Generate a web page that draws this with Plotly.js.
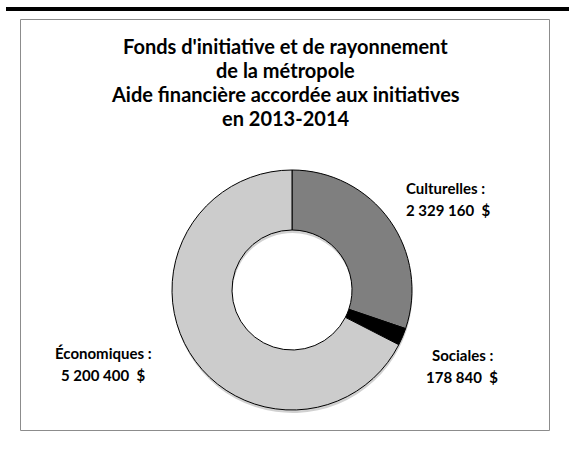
<!DOCTYPE html>
<html>
<head>
<meta charset="utf-8">
<script src="https://cdn.plot.ly/plotly-3.0.1.min.js"></script>
<style>html,body{margin:0;padding:0;background:#fff;}#chart{width:569px;height:449px;}</style>
</head>
<body>
<div id="chart"></div>
<script>
const titleLines = [
  "Fonds d'initiative et de rayonnement",
  "de la métropole",
  "Aide financière accordée aux initiatives",
  "en 2013-2014"
];
const categories = ["Culturelles", "Sociales", "Économiques"];
const amounts = [2329160, 178840, 5200400];
const sliceColors = ["#7f7f7f", "#000000", "#cccccc"];

const W = 569, H = 449;
const px = x => x / W;
const py = y => 1 - y / H;

function fmt(v) {
  return String(v).replace(/\B(?=(\d{3})+(?!\d))/g, " ") + "  $";
}

const font = "Lato, 'Open Sans', sans-serif";

const shadow = {
  type: "pie",
  labels: categories,
  values: amounts,
  sort: false,
  direction: "clockwise",
  hole: 0.5,
  textinfo: "none",
  hoverinfo: "skip",
  showlegend: false,
  marker: { colors: ["rgba(0,0,0,0.18)", "rgba(0,0,0,0.18)", "rgba(0,0,0,0.18)"], line: { width: 0 } },
  domain: { x: [px(172.5), px(412.5)], y: [py(413), py(173)] }
};

const trace = {
  type: "pie",
  labels: categories,
  values: amounts,
  sort: false,
  direction: "clockwise",
  rotation: 0,
  hole: 0.5,
  textinfo: "none",
  hoverinfo: "label+value",
  showlegend: false,
  marker: { colors: sliceColors, line: { color: "#000000", width: 1 } },
  domain: { x: [px(172), px(412)], y: [py(410), py(170)] }
};

const labelPos = [
  { x: 404, y: 188, xanchor: "left" },
  { x: 462, y: 355, xanchor: "center" },
  { x: 103, y: 353, xanchor: "center" }
];

const annotations = [];
titleLines.forEach((t, i) => {
  annotations.push({
    text: "<b>" + t + "</b>", x: px(285), y: py(46 + i * 24),
    xref: "paper", yref: "paper", xanchor: "center", yanchor: "middle",
    showarrow: false, font: { family: font, size: 20, color: "#000" }
  });
});
categories.forEach((c, i) => {
  const p = labelPos[i];
  annotations.push({
    text: "<b>" + c + " :</b>", x: px(p.x), y: py(p.y),
    xref: "paper", yref: "paper", xanchor: p.xanchor, yanchor: "middle",
    showarrow: false, font: { family: font, size: 15, color: "#000" }
  });
  annotations.push({
    text: "<b>" + fmt(amounts[i]) + "</b>", x: px(p.x), y: py(p.y + 22),
    xref: "paper", yref: "paper", xanchor: p.xanchor, yanchor: "middle",
    showarrow: false, font: { family: font, size: 15, color: "#000" }
  });
});

const layout = {
  width: W, height: H,
  margin: { l: 0, r: 0, t: 0, b: 0 },
  paper_bgcolor: "#ffffff",
  showlegend: false,
  annotations: annotations,
  shapes: [
    { type: "rect", xref: "paper", yref: "paper", x0: px(6), x1: px(569), y0: py(11), y1: py(7),
      fillcolor: "#000000", line: { width: 0 } },
    { type: "rect", xref: "paper", yref: "paper", x0: px(20.5), x1: px(549.5), y0: py(430.5), y1: py(19.5),
      fillcolor: "rgba(0,0,0,0)", line: { color: "#8c8c8c", width: 1 } }
  ]
};

Plotly.newPlot("chart", [shadow, trace], layout, { displayModeBar: false, staticPlot: true });
</script>
</body>
</html>
